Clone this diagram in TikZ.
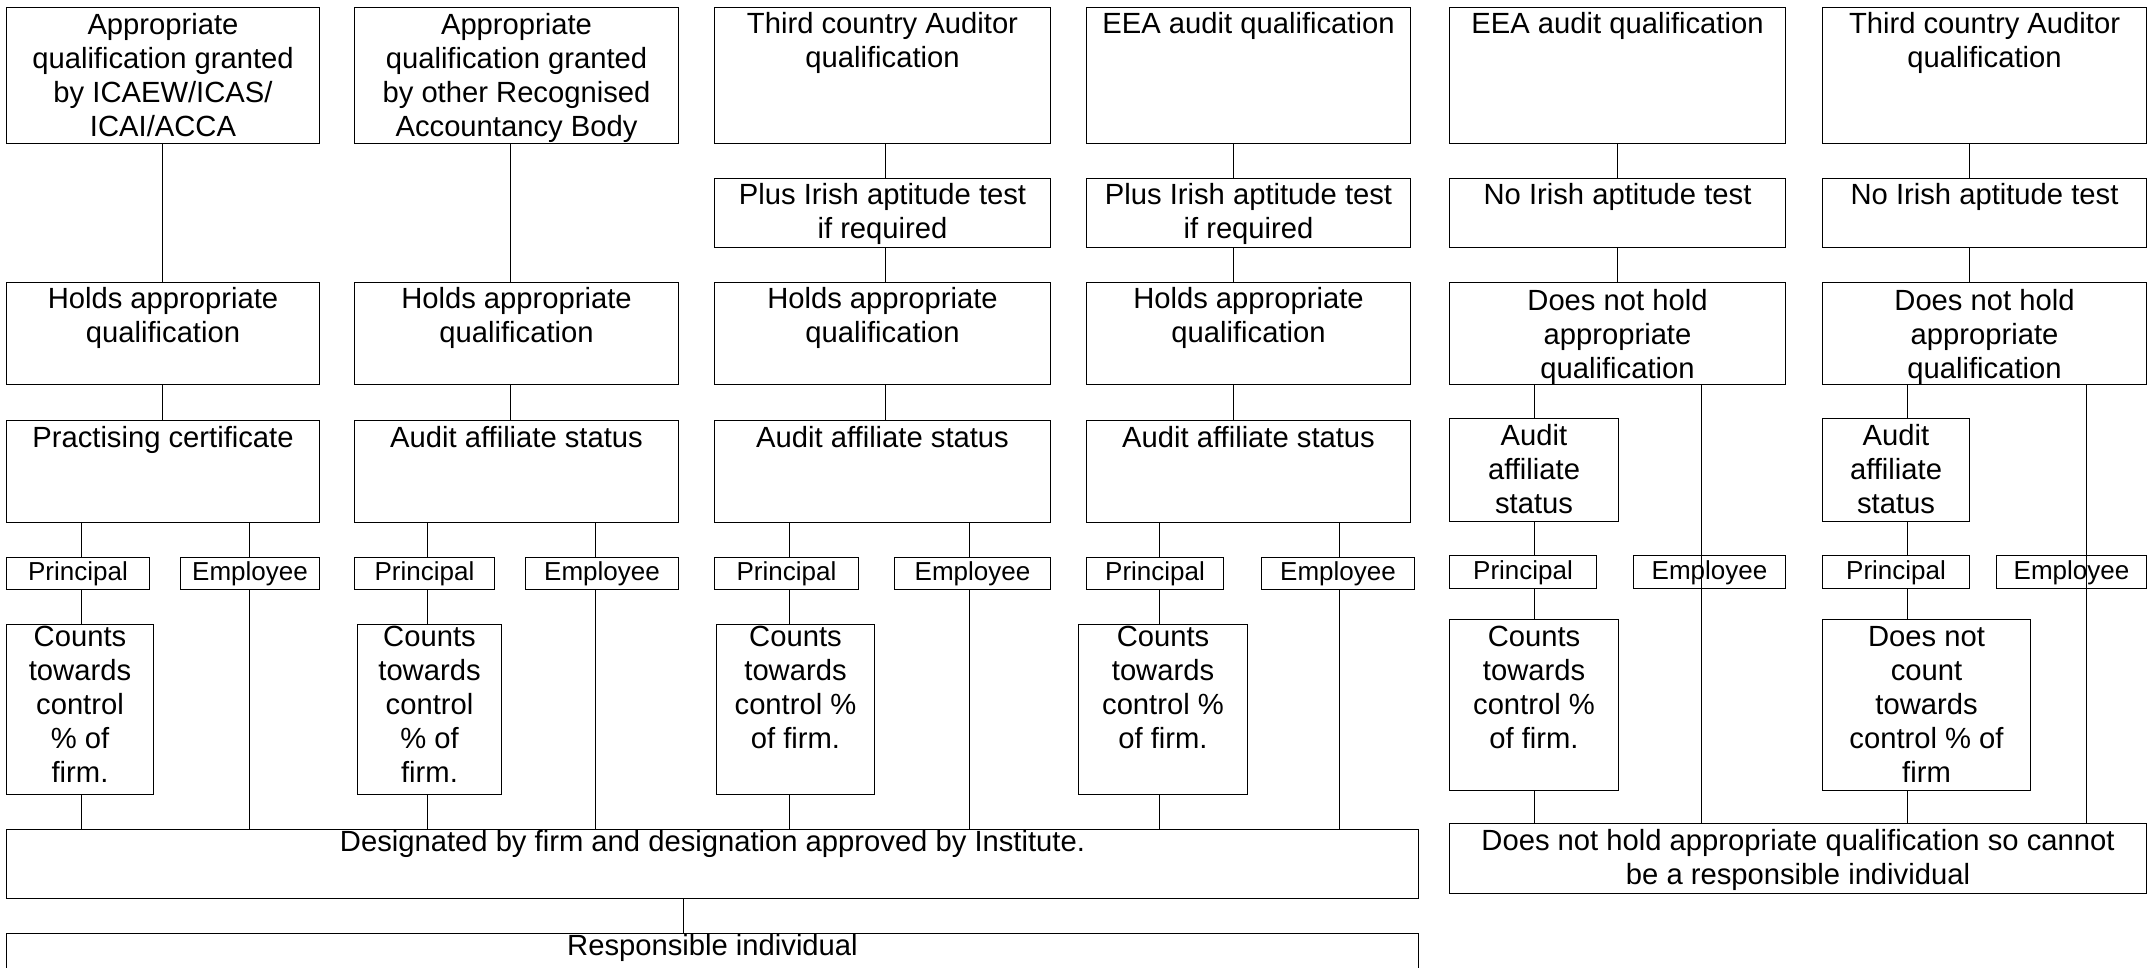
\documentclass[tikz,border=0pt]{standalone}
\usepackage{fontspec}
\setmainfont{Liberation Sans}
\tikzset{
  box/.style={draw, line width=1.3pt, rectangle, inner sep=0pt, outer sep=0pt, anchor=north west, font=\fontsize{29.2pt}{34pt}\selectfont},
  small/.style={font=\fontsize{26pt}{30pt}\selectfont},
  conn/.style={draw, line width=1.3pt},
}
\newcommand\mybox[8][]{%
  \pgfmathsetlengthmacro\bw{(#5)-(#3)}%
  \pgfmathsetlengthmacro\bh{(#6)-(#4)}%
  \node[box,#1] (#2) at (#3,#4) {\parbox[t][\bh][t]{\bw}{\centering\rule{0pt}{#7pt}#8\par}};%
}
\begin{document}
\begin{tikzpicture}[x=1pt,y=-1pt]
\fill[white] (0,0) rectangle (2149,968);
\useasboundingbox (0,0) rectangle (2149,968);
\begin{scope}[shift={(0.5,0.5)}]
% row A
\mybox{A1}{6}{7}{319}{143}{27}{Appropriate\\qualification granted\\by ICAEW/ICAS/\\ICAI/ACCA}
\mybox{A2}{354}{7}{678}{143}{27}{Appropriate\\qualification granted\\by other Recognised\\Accountancy Body}
\mybox{A3}{714}{7}{1050}{143}{26}{Third country Auditor\\qualification}
\mybox{A4}{1086}{7}{1410}{143}{26}{EEA audit qualification}
\mybox{A5}{1449}{7}{1785}{143}{26}{EEA audit qualification}
\mybox{A6}{1822}{7}{2146}{143}{26}{Third country Auditor\\qualification}
% row B
\mybox{B3}{714}{178}{1050}{247}{26}{Plus Irish aptitude test\\if required}
\mybox{B4}{1086}{178}{1410}{247}{26}{Plus Irish aptitude test\\if required}
\mybox{B5}{1449}{178}{1785}{247}{26}{No Irish aptitude test}
\mybox{B6}{1822}{178}{2146}{247}{26}{No Irish aptitude test}
% row C
\mybox{C1}{6}{282}{319}{384}{26}{Holds appropriate\\qualification}
\mybox{C2}{354}{282}{678}{384}{26}{Holds appropriate\\qualification}
\mybox{C3}{714}{282}{1050}{384}{26}{Holds appropriate\\qualification}
\mybox{C4}{1086}{282}{1410}{384}{26}{Holds appropriate\\qualification}
\mybox{C5}{1449}{282}{1785}{384}{28}{Does not hold\\appropriate\\qualification}
\mybox{C6}{1822}{282}{2146}{384}{28}{Does not hold\\appropriate\\qualification}
% row D
\mybox{D1}{6}{420}{319}{522}{27}{Practising certificate}
\mybox{D2}{354}{420}{678}{522}{27}{Audit affiliate status}
\mybox{D3}{714}{420}{1050}{522}{27}{Audit affiliate status}
\mybox{D4}{1086}{420}{1410}{522}{27}{Audit affiliate status}
\mybox{D5}{1449}{418}{1618}{521}{27}{Audit\\affiliate\\status}
\mybox{D6}{1822}{418}{1969}{521}{27}{Audit\\affiliate\\status}
% row P / E
\mybox[small]{P1}{6}{557}{149}{589}{23}{Principal}
\mybox[small]{E1}{180}{557}{319}{589}{23}{Employee}
\mybox[small]{P2}{354}{557}{494}{589}{23}{Principal}
\mybox[small]{E2}{525}{557}{678}{589}{23}{Employee}
\mybox[small]{P3}{714}{557}{858}{589}{23}{Principal}
\mybox[small]{E3}{894}{557}{1050}{589}{23}{Employee}
\mybox[small]{P4}{1086}{557}{1223}{589}{23}{Principal}
\mybox[small]{E4}{1261}{557}{1414}{589}{23}{Employee}
\mybox[small]{P5}{1449}{555}{1596}{588}{24}{Principal}
\mybox[small]{E5}{1633}{555}{1785}{588}{24}{Employee}
\mybox[small]{P6}{1822}{555}{1969}{588}{24}{Principal}
\mybox[small]{E6}{1996}{555}{2146}{588}{24}{Employee}
% row K
\mybox{K1}{6}{624}{153}{794}{22}{Counts\\towards\\control\\\% of\\firm.}
\mybox{K2}{357}{624}{501}{794}{22}{Counts\\towards\\control\\\% of\\firm.}
\mybox{K3}{716}{624}{874}{794}{22}{Counts\\towards\\control \%\\of firm.}
\mybox{K4}{1078}{624}{1247}{794}{22}{Counts\\towards\\control \%\\of firm.}
\mybox{K5}{1449}{619}{1618}{790}{27}{Counts\\towards\\control \%\\of firm.}
\mybox{K6}{1822}{619}{2030}{790}{27}{Does not\\count\\towards\\control \% of\\firm}
% bottom rows
\mybox{DES}{6}{829}{1418}{898}{21.5}{Designated by firm and designation approved by Institute.}
\mybox{DNH}{1449}{823}{2146}{893}{27}{Does not hold appropriate qualification so cannot\\be a responsible individual}
\mybox{RESP}{6}{933}{1418}{990}{22}{Responsible individual}
% connectors column 1
\draw[conn] (A1.south -| 162,0) -- (C1.north -| 162,0);
\draw[conn] (C1.south -| 162,0) -- (D1.north -| 162,0);
\draw[conn] (D1.south -| 81,0) -- (P1.north -| 81,0);
\draw[conn] (D1.south -| 249,0) -- (E1.north -| 249,0);
\draw[conn] (P1.south -| 81,0) -- (K1.north -| 81,0);
\draw[conn] (K1.south -| 81,0) -- (DES.north -| 81,0);
\draw[conn] (E1.south -| 249,0) -- (DES.north -| 249,0);
% column 2
\draw[conn] (A2.south -| 510,0) -- (C2.north -| 510,0);
\draw[conn] (C2.south -| 510,0) -- (D2.north -| 510,0);
\draw[conn] (D2.south -| 427,0) -- (P2.north -| 427,0);
\draw[conn] (D2.south -| 595,0) -- (E2.north -| 595,0);
\draw[conn] (P2.south -| 427,0) -- (K2.north -| 427,0);
\draw[conn] (K2.south -| 427,0) -- (DES.north -| 427,0);
\draw[conn] (E2.south -| 595,0) -- (DES.north -| 595,0);
% column 3
\draw[conn] (A3.south -| 885,0) -- (B3.north -| 885,0);
\draw[conn] (B3.south -| 885,0) -- (C3.north -| 885,0);
\draw[conn] (C3.south -| 885,0) -- (D3.north -| 885,0);
\draw[conn] (D3.south -| 789,0) -- (P3.north -| 789,0);
\draw[conn] (D3.south -| 969,0) -- (E3.north -| 969,0);
\draw[conn] (P3.south -| 789,0) -- (K3.north -| 789,0);
\draw[conn] (K3.south -| 789,0) -- (DES.north -| 789,0);
\draw[conn] (E3.south -| 969,0) -- (DES.north -| 969,0);
% column 4
\draw[conn] (A4.south -| 1233,0) -- (B4.north -| 1233,0);
\draw[conn] (B4.south -| 1233,0) -- (C4.north -| 1233,0);
\draw[conn] (C4.south -| 1233,0) -- (D4.north -| 1233,0);
\draw[conn] (D4.south -| 1159,0) -- (P4.north -| 1159,0);
\draw[conn] (D4.south -| 1339,0) -- (E4.north -| 1339,0);
\draw[conn] (P4.south -| 1159,0) -- (K4.north -| 1159,0);
\draw[conn] (K4.south -| 1159,0) -- (DES.north -| 1159,0);
\draw[conn] (E4.south -| 1339,0) -- (DES.north -| 1339,0);
% column 5
\draw[conn] (A5.south -| 1617,0) -- (B5.north -| 1617,0);
\draw[conn] (B5.south -| 1617,0) -- (C5.north -| 1617,0);
\draw[conn] (C5.south -| 1534,0) -- (D5.north -| 1534,0);
\draw[conn] (D5.south -| 1534,0) -- (P5.north -| 1534,0);
\draw[conn] (P5.south -| 1534,0) -- (K5.north -| 1534,0);
\draw[conn] (K5.south -| 1534,0) -- (DNH.north -| 1534,0);
\draw[conn] (C5.south -| 1701,0) -- (DNH.north -| 1701,0);
% column 6
\draw[conn] (A6.south -| 1969,0) -- (B6.north -| 1969,0);
\draw[conn] (B6.south -| 1969,0) -- (C6.north -| 1969,0);
\draw[conn] (C6.south -| 1907,0) -- (D6.north -| 1907,0);
\draw[conn] (D6.south -| 1907,0) -- (P6.north -| 1907,0);
\draw[conn] (P6.south -| 1907,0) -- (K6.north -| 1907,0);
\draw[conn] (K6.south -| 1907,0) -- (DNH.north -| 1907,0);
\draw[conn] (C6.south -| 2086,0) -- (DNH.north -| 2086,0);
% bottom
\draw[conn] (DES.south -| 683,0) -- (RESP.north -| 683,0);
\end{scope}
\end{tikzpicture}
\end{document}
